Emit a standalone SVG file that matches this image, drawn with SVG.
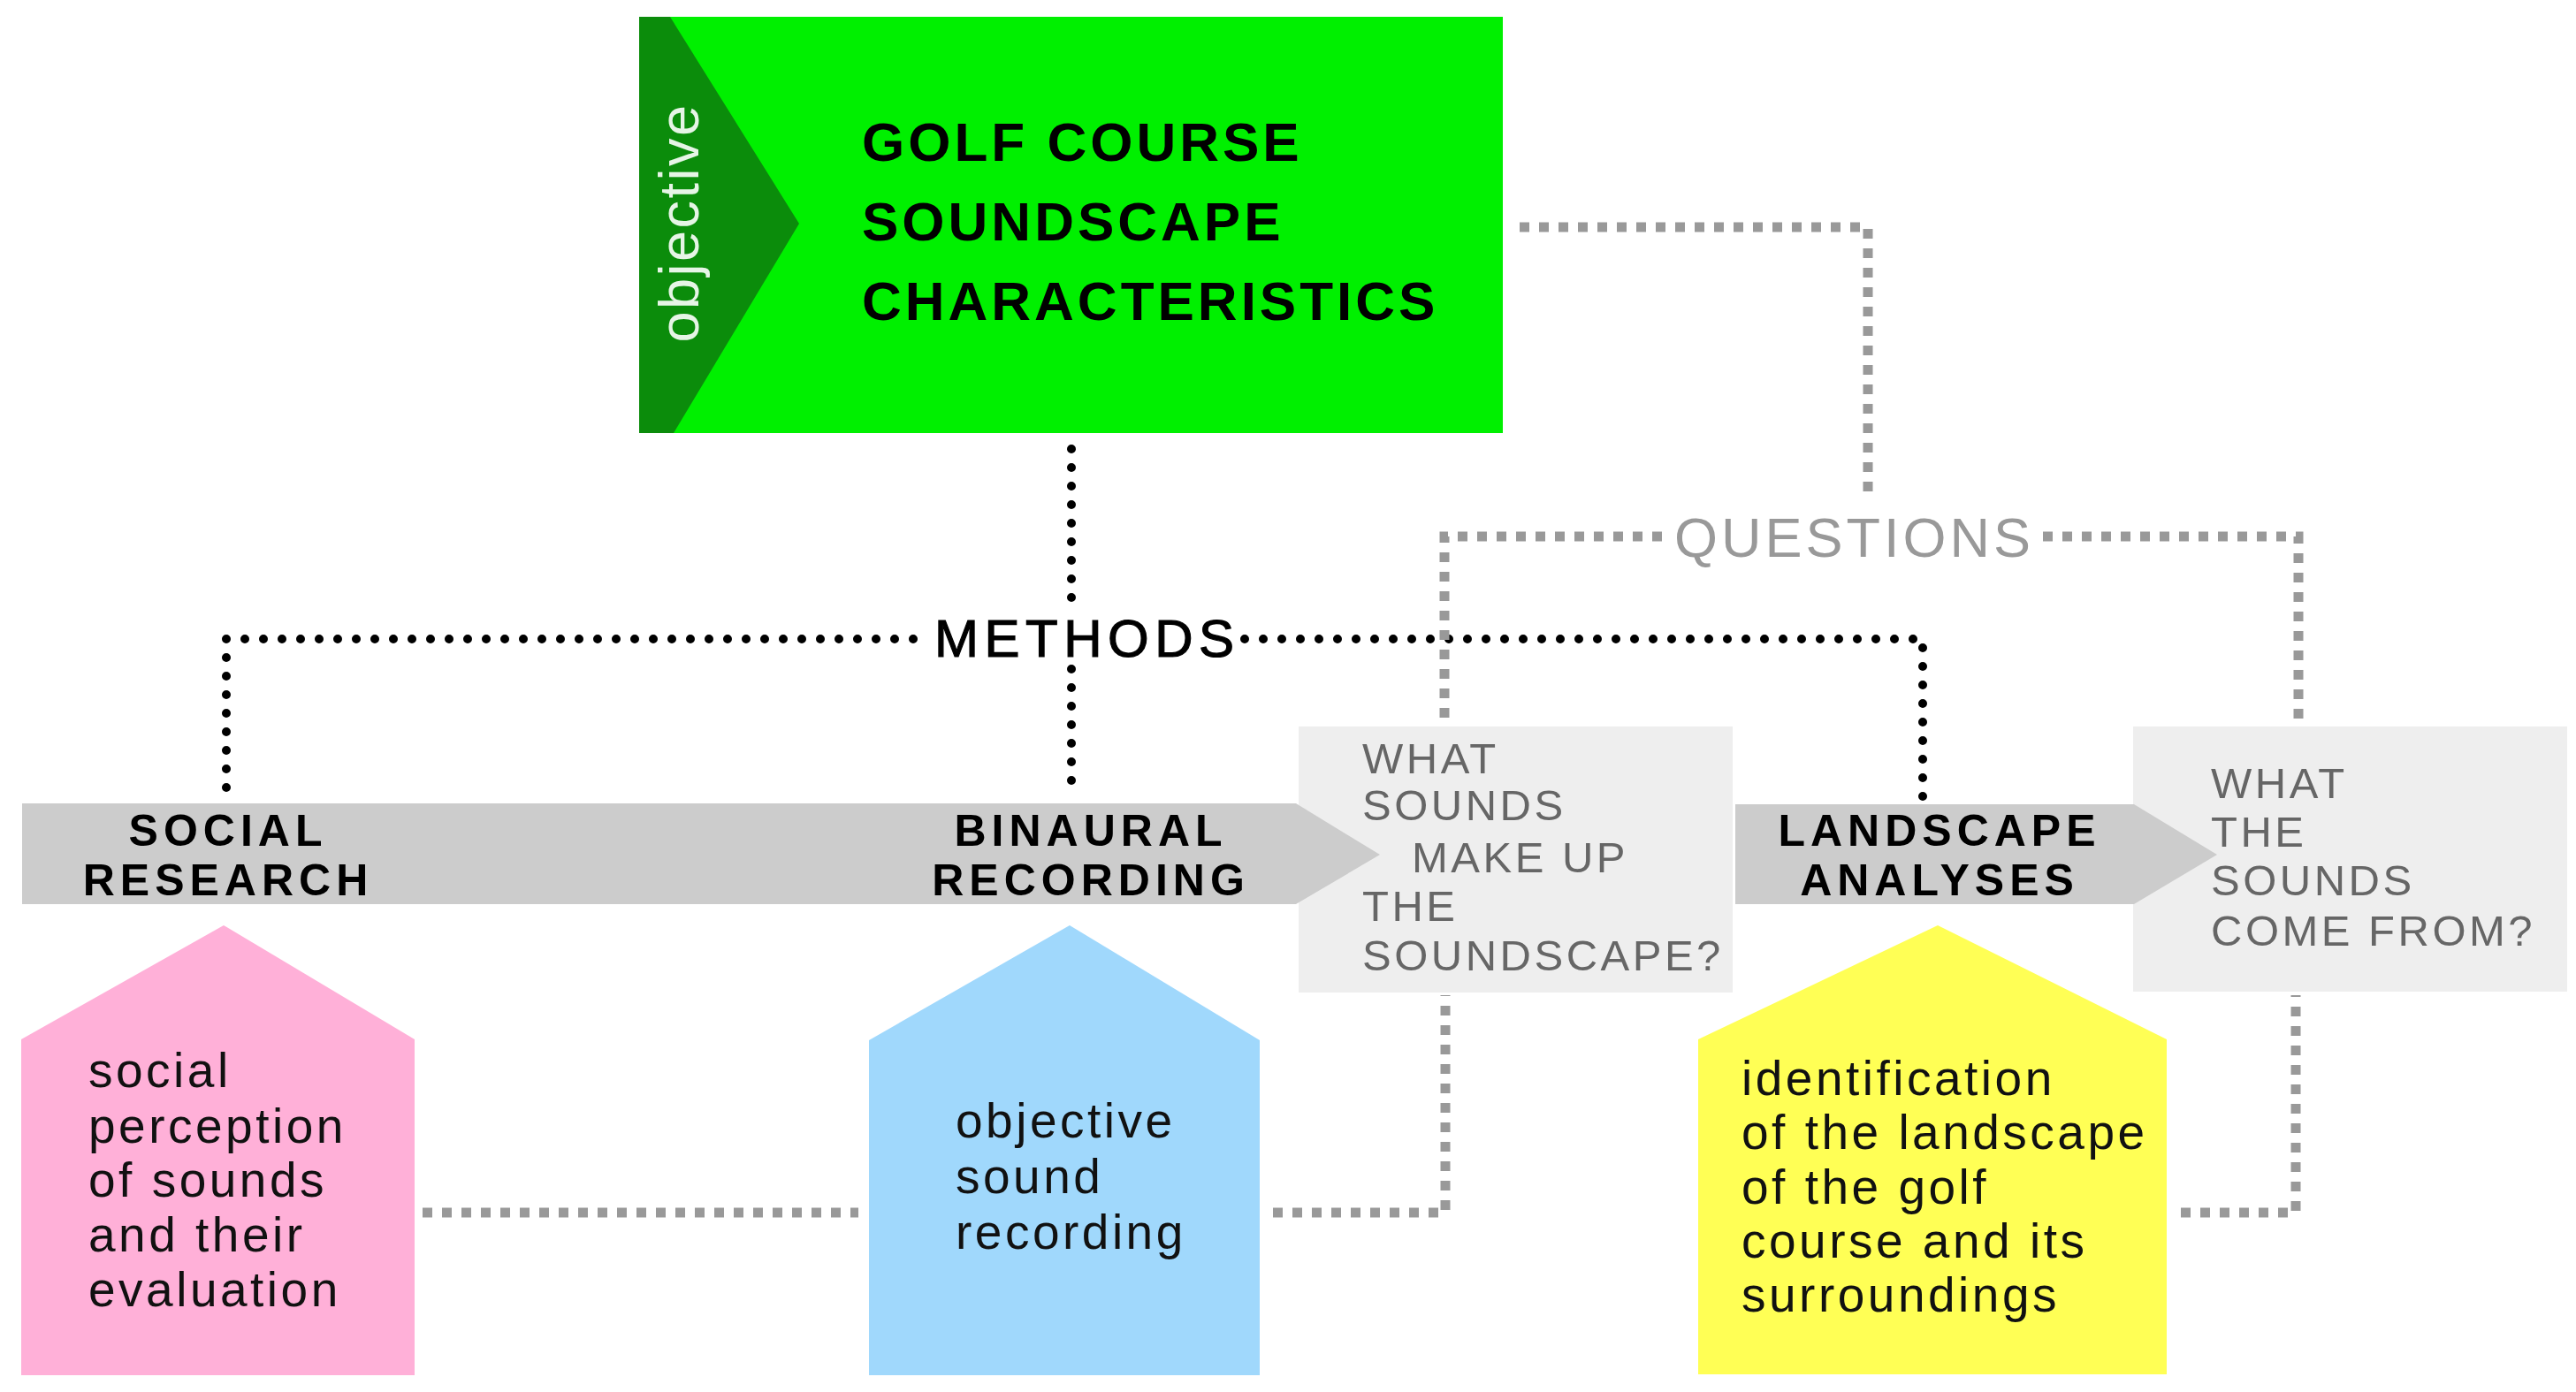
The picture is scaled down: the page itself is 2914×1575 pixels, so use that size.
<svg xmlns="http://www.w3.org/2000/svg" width="2914" height="1575" viewBox="0 0 2914 1575">
<style>
.dotb{fill:none;stroke:#000;stroke-width:10;stroke-dasharray:0 21;stroke-linecap:round}
.dotg{fill:none;stroke:#999;stroke-width:11;stroke-dasharray:11 11}
.t{font-family:"Liberation Sans",Arial,sans-serif}
.title{font-size:62px;font-weight:bold;fill:#000;letter-spacing:4px}
.meth{font-size:50px;font-weight:bold;fill:#000;letter-spacing:6px}
.q{font-size:49px;fill:#666;letter-spacing:3.5px}
.h{font-size:55px;fill:#111;letter-spacing:3.5px}
.bar{fill:#cccccc}
.qbox{fill:#eeeeee}
</style>
<rect width="2914" height="1575" fill="#fff"/>
<g id="connectors">
<polyline class="dotb" points="1212,508 1212,690"/>
<polyline class="dotb" points="1212,757 1212,900"/>
<polyline class="dotb" points="1033,723 256,723 256,903"/>
<polyline class="dotb" points="1408,723 2175,723 2175,903"/>
<polyline class="dotg" points="1719,257 2113,257 2113,558"/>
<polyline class="dotg" points="1880,607 1634,607 1634,822"/>
<polyline class="dotg" points="2311,607 2600,607 2600,822"/>
<polyline class="dotg" points="478,1372 971,1372"/>
<polyline class="dotg" points="1440,1372 1635,1372 1635,1126"/>
<polyline class="dotg" points="2467,1372 2597,1372 2597,1126"/>
</g>
<g id="objective">
<rect x="723" y="19" width="977" height="471" fill="#00f000"/>
<polygon points="723,19 758,19 904,253 762,490 723,490" fill="#0b8c0b"/>
<text class="t" transform="translate(790,252) rotate(-90)" text-anchor="middle" font-size="63" letter-spacing="2.5" fill="#e6f5e6">objective</text>
<text class="t title" x="975" y="182">GOLF COURSE</text>
<text class="t title" x="975" y="272">SOUNDSCAPE</text>
<text class="t title" x="975" y="362">CHARACTERISTICS</text>
</g>
<g id="methods-label">
<text class="t" x="1057" y="743" font-size="60" letter-spacing="6.5" fill="#000" stroke="#000" stroke-width="1.2">METHODS</text>
</g>
<g id="questions-label">
<text class="t" x="1894" y="630" font-size="63" letter-spacing="4" fill="#999">QUESTIONS</text>
</g>
<g id="question1">
<rect class="qbox" x="1469" y="822" width="491" height="301"/>
</g>
<g id="question2">
<rect class="qbox" x="2413" y="822" width="491" height="300"/>
</g>
<g id="bar1">
<polygon class="bar" points="25,909 1466,909 1561,967 1466,1023 25,1023"/>
<text class="t meth" x="258" y="957" text-anchor="middle">SOCIAL</text>
<text class="t meth" x="258" y="1013" text-anchor="middle">RESEARCH</text>
<text class="t meth" x="1234" y="957" text-anchor="middle">BINAURAL</text>
<text class="t meth" x="1234" y="1013" text-anchor="middle">RECORDING</text>
</g>
<g id="bar2">
<polygon class="bar" points="1963,910 2414,910 2508,967 2414,1023 1963,1023"/>
<text class="t meth" x="2194" y="957" text-anchor="middle">LANDSCAPE</text>
<text class="t meth" x="2194" y="1013" text-anchor="middle">ANALYSES</text>
</g>
<g id="question1-text">
<text class="t q" x="1541" y="875">WHAT</text>
<text class="t q" x="1541" y="928">SOUNDS</text>
<text class="t q" x="1597" y="987">MAKE UP</text>
<text class="t q" x="1541" y="1042">THE</text>
<text class="t q" x="1541" y="1098">SOUNDSCAPE?</text>
</g>
<g id="question2-text">
<text class="t q" x="2501" y="903">WHAT</text>
<text class="t q" x="2501" y="958">THE</text>
<text class="t q" x="2501" y="1013">SOUNDS</text>
<text class="t q" x="2501" y="1070">COME FROM?</text>
</g>
<g id="social">
<polygon points="24,1176 253,1047 469,1176 469,1556 24,1556" fill="#ffb0d8"/>
<text class="t h" x="100" y="1230">social</text>
<text class="t h" x="100" y="1293">perception</text>
<text class="t h" x="100" y="1354">of sounds</text>
<text class="t h" x="100" y="1416">and their</text>
<text class="t h" x="100" y="1478">evaluation</text>
</g>
<g id="recording">
<polygon points="983,1177 1210,1047 1425,1177 1425,1556 983,1556" fill="#a0d8fc"/>
<text class="t h" x="1081" y="1287">objective</text>
<text class="t h" x="1081" y="1350">sound</text>
<text class="t h" x="1081" y="1413">recording</text>
</g>
<g id="landscape">
<polygon points="1921,1176 2192,1047 2451,1176 2451,1555 1921,1555" fill="#ffff55"/>
<text class="t h" x="1970" y="1239">identification</text>
<text class="t h" x="1970" y="1300">of the landscape</text>
<text class="t h" x="1970" y="1362">of the golf</text>
<text class="t h" x="1970" y="1423">course and its</text>
<text class="t h" x="1970" y="1484">surroundings</text>
</g>
</svg>
